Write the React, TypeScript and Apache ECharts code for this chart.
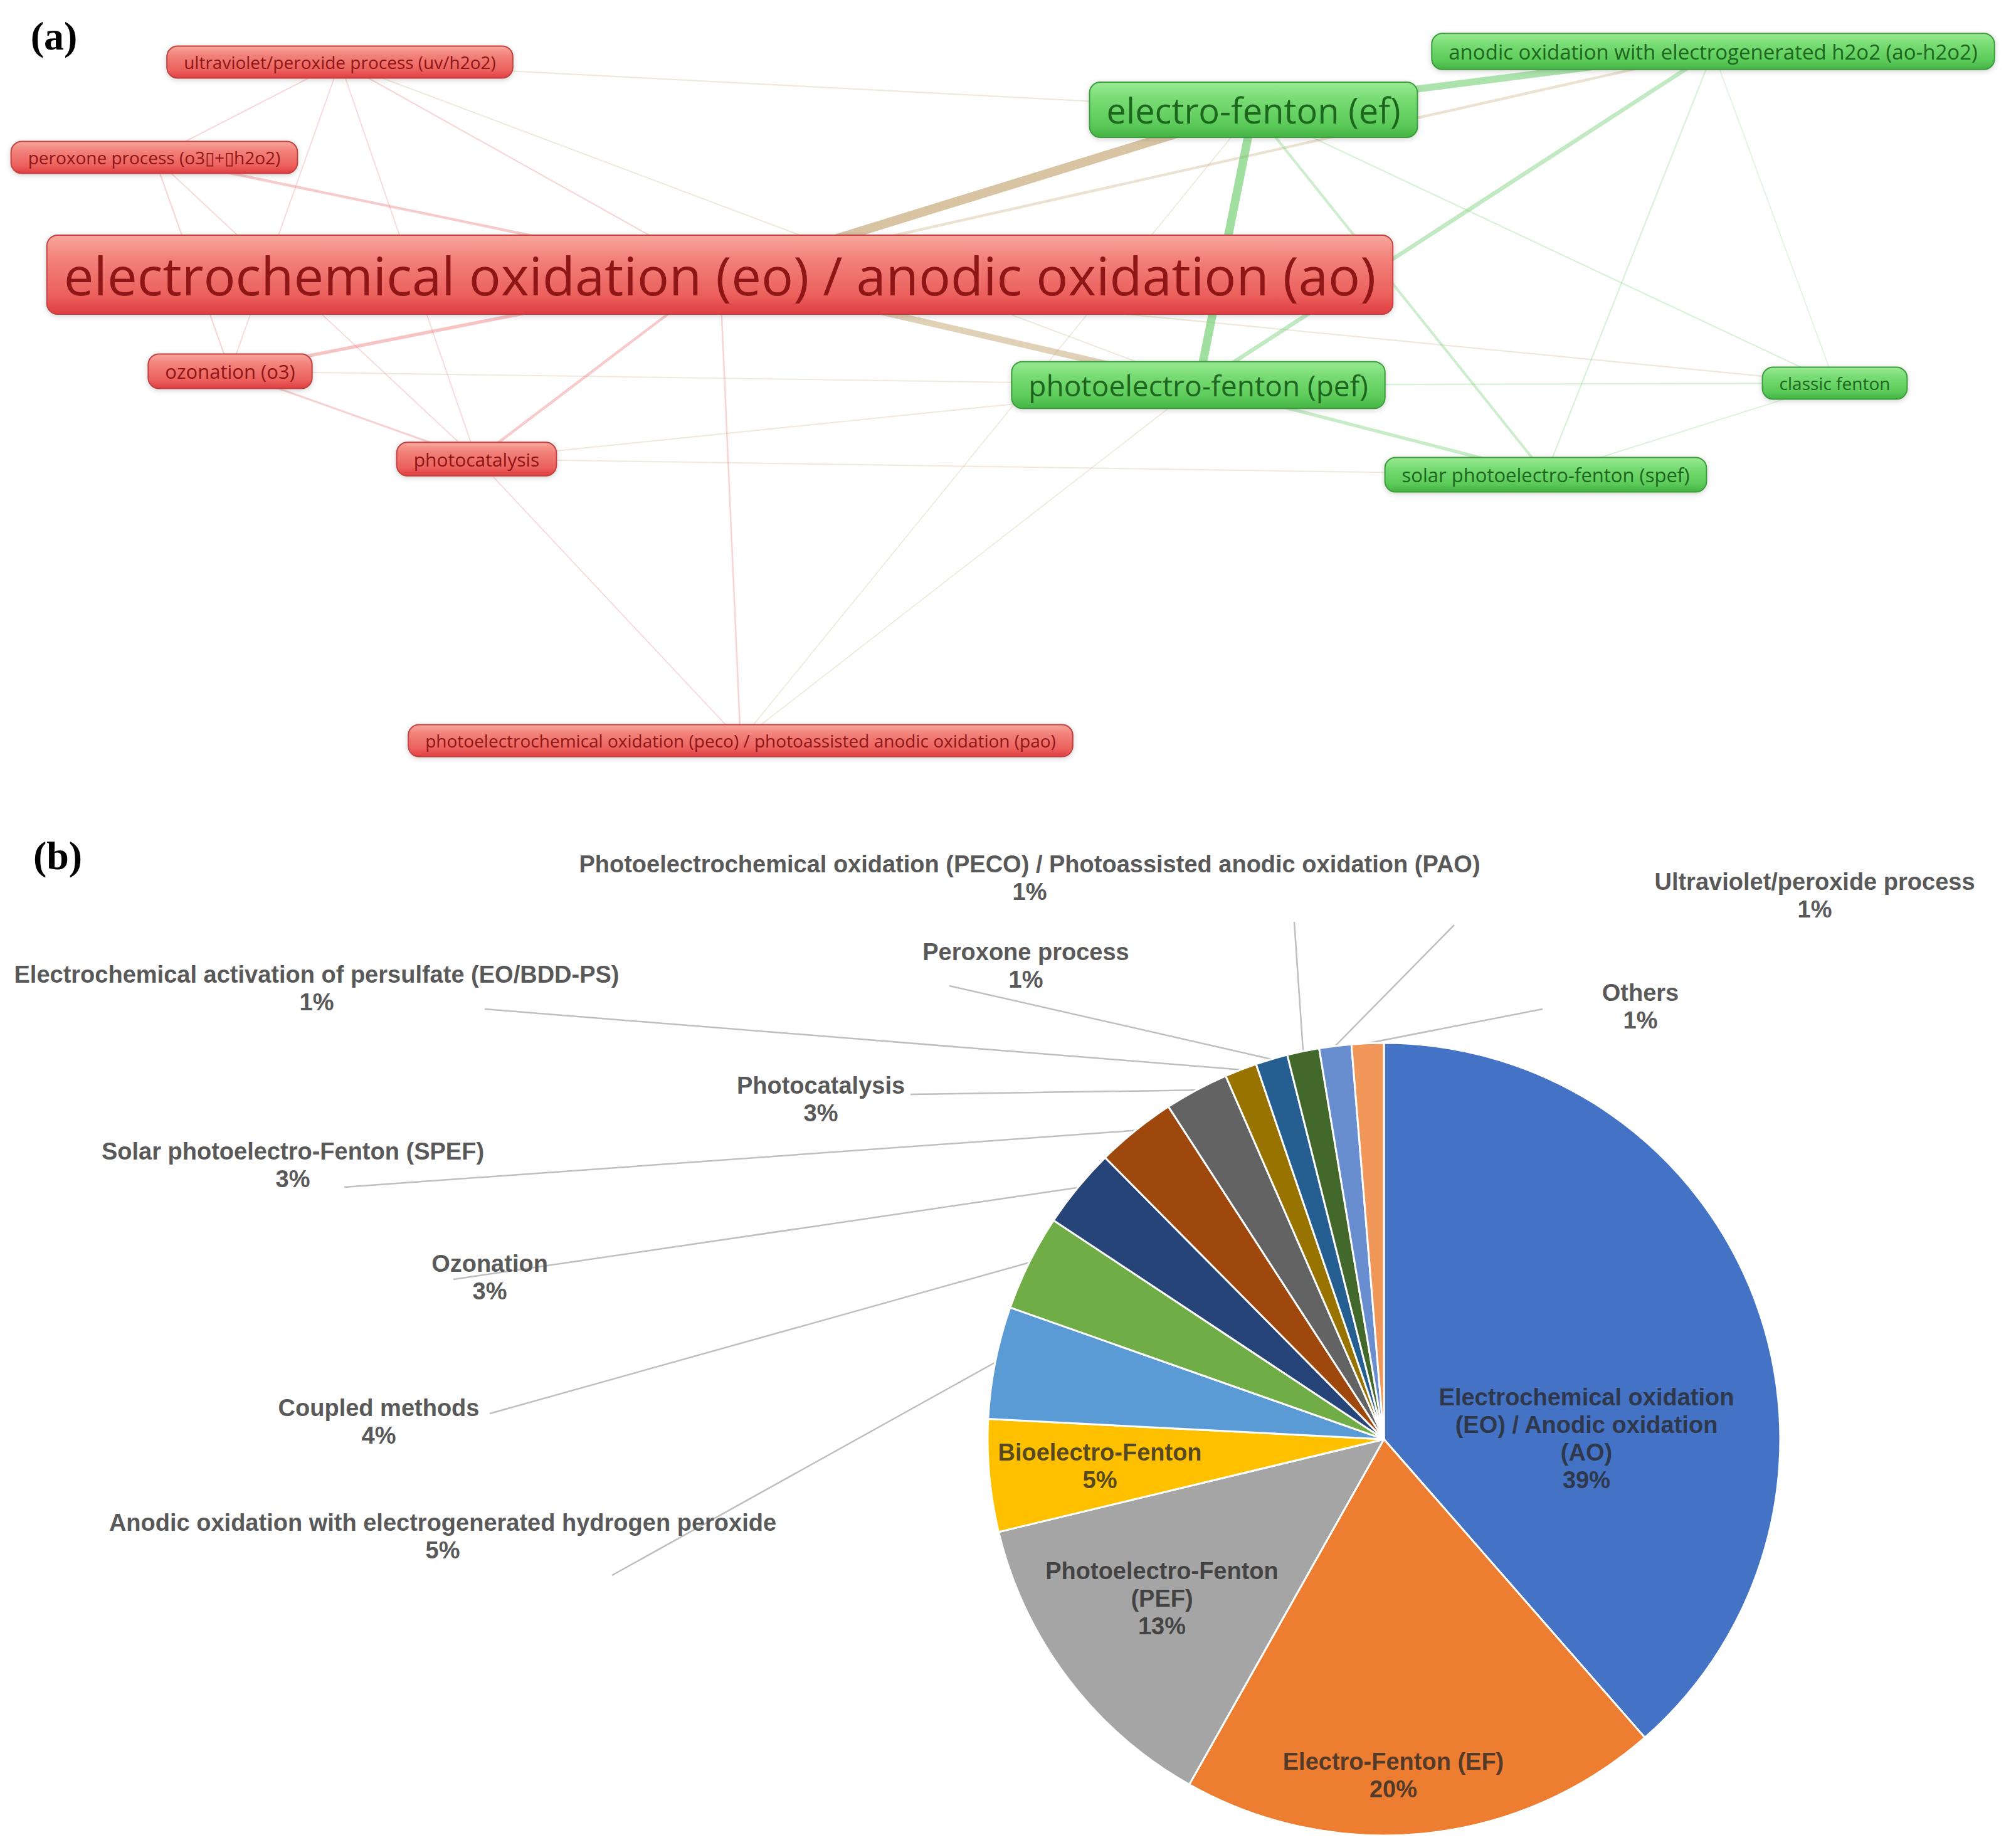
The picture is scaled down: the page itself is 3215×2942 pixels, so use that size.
import React, { useEffect, useRef } from "react";
import * as echarts from "echarts";

const CHART_W = 3215;
const CHART_H = 2942;

// ---------------- (a) keyword co-occurrence network ----------------
const nodeNames = [
  "electrochemical oxidation (eo) / anodic oxidation (ao)",
  "electro-fenton (ef)",
  "photoelectro-fenton (pef)",
  "anodic oxidation with electrogenerated h2o2 (ao-h2o2)",
  "solar photoelectro-fenton (spef)",
  "classic fenton",
  "ultraviolet/peroxide process (uv/h2o2)",
  "peroxone process (o3\u25AF+\u25AFh2o2)",
  "ozonation (o3)",
  "photocatalysis",
  "photoelectrochemical oxidation (peco) / photoassisted anodic oxidation (pao)",
];
const nodeCluster = [1, 2, 2, 2, 2, 2, 1, 1, 1, 1, 1];
const nodeOccurrences = [59, 30, 20, 7, 5, 2, 2, 2, 5, 4, 2];
const nodeMapX = [1148, 1999, 1911, 2732, 2465, 2926, 542, 246, 367, 760, 1181];
const nodeMapY = [438, 175, 614, 82, 757, 611, 99, 251, 592, 732, 1181];

const linkSource = [0, 0, 1, 1, 3, 0, 1, 2, 1, 3, 3, 2, 0, 0, 0, 0, 0, 0, 8, 7, 7, 6, 6, 6, 6, 6, 8, 9, 9, 10, 10, 9, 5];
const linkTarget = [1, 2, 2, 3, 2, 3, 4, 4, 5, 4, 5, 5, 5, 8, 9, 7, 10, 6, 9, 8, 9, 7, 8, 9, 1, 2, 2, 2, 4, 1, 2, 10, 4];
const linkStrength = [12, 8, 11, 9, 5, 3, 3, 4, 1.2, 1.2, 0.6, 1.2, 1.2, 4, 3, 3, 1.5, 1.2, 2, 1.2, 0.8, 1, 0.8, 0.8, 1.2, 1, 1, 1, 1, 0.8, 0.8, 0.8, 0.8];

// ---------------- (b) pie chart ----------------
const pieCategories = [
  "Electrochemical oxidation (EO) / Anodic oxidation (AO)",
  "Electro-Fenton (EF)",
  "Photoelectro-Fenton (PEF)",
  "Bioelectro-Fenton",
  "Anodic oxidation with electrogenerated hydrogen peroxide",
  "Coupled methods",
  "Ozonation",
  "Solar photoelectro-Fenton (SPEF)",
  "Photocatalysis",
  "Electrochemical activation of persulfate (EO/BDD-PS)",
  "Peroxone process",
  "Photoelectrochemical oxidation (PECO) / Photoassisted anodic oxidation (PAO)",
  "Ultraviolet/peroxide process",
  "Others",
];
const pieValues = [59, 30, 20, 7, 7, 6, 5, 5, 4, 2, 2, 2, 2, 2];
const pieLabelText = [
  "Electrochemical oxidation\n(EO) / Anodic oxidation\n(AO)",
  "Electro-Fenton (EF)",
  "Photoelectro-Fenton\n(PEF)",
  "Bioelectro-Fenton",
  "Anodic oxidation with electrogenerated hydrogen peroxide",
  "Coupled methods",
  "Ozonation",
  "Solar photoelectro-Fenton (SPEF)",
  "Photocatalysis",
  "Electrochemical activation of persulfate (EO/BDD-PS)",
  "Peroxone process",
  "Photoelectrochemical oxidation (PECO) / Photoassisted anodic oxidation (PAO)",
  "Ultraviolet/peroxide process",
  "Others",
];

// ---------------- layout / styles ----------------
const pieColors = [
  "#4472C4", "#ED7D31", "#A5A5A5", "#FFC000", "#5B9BD5", "#70AD47", "#264478",
  "#9E480E", "#636363", "#997300", "#255E91", "#43682B", "#698ED0", "#F1975A",
];
const insideLabels = [0, 1, 2, 3];
const PIE_CENTER = [2207, 2295];
const PIE_RADIUS = 632;
const labelAt: Record<number, [number, number]> = {
  0: [2530, 2294], 1: [2222, 2831], 2: [1853, 2549], 3: [1754, 2338],
  4: [706, 2450], 5: [604, 2267], 6: [781, 2037], 7: [467, 1858],
  8: [1309, 1753], 9: [505, 1576], 10: [1636, 1540], 11: [1642, 1400],
  12: [2894, 1428], 13: [2616, 1605],
};
const leaderEnd: Record<number, [number, number]> = {
  4: [976, 2512], 5: [781, 2254], 6: [723, 2040], 7: [549, 1893],
  8: [1452, 1745], 9: [773, 1609], 10: [1514, 1572], 11: [2064, 1470],
  12: [2319, 1475], 13: [2460, 1609],
};

let measureCtx: CanvasRenderingContext2D | null = null;
function textWidth(text: string, font: string): number {
  if (!measureCtx) {
    const c = document.createElement("canvas");
    measureCtx = c.getContext("2d");
  }
  if (!measureCtx) return text.length * 10;
  measureCtx.font = font;
  return measureCtx.measureText(text).width;
}

function edgeColor(a: number, b: number, s: number): string {
  const ca = nodeCluster[a];
  const cb = nodeCluster[b];
  const alpha = Math.min(0.66, 0.22 + 0.037 * s);
  const rgb = ca === cb ? (ca === 1 ? "232,96,96" : "104,204,104") : "196,166,116";
  return `rgba(${rgb},${alpha})`;
}

function arcPoint(i: number): number[] {
  const total = pieValues.reduce((a, b) => a + b, 0);
  let before = 0;
  for (let k = 0; k < i; k++) before += pieValues[k];
  const mid = ((before + pieValues[i] / 2) / total) * Math.PI * 2;
  return [PIE_CENTER[0] + PIE_RADIUS * Math.sin(mid), PIE_CENTER[1] - PIE_RADIUS * Math.cos(mid)];
}

export default function App() {
  const ref = useRef<HTMLDivElement>(null);

  useEffect(() => {
    if (!ref.current) return;
    const chart = echarts.init(ref.current, undefined, { renderer: "svg" });

    const order = linkStrength.map((_, i) => i).sort((a, b) => linkStrength[a] - linkStrength[b]);
    const linesData = order.map((k) => {
      const a = linkSource[k];
      const b = linkTarget[k];
      return {
        coords: [
          [nodeMapX[a], nodeMapY[a]],
          [nodeMapX[b], nodeMapY[b]],
        ],
        lineStyle: {
          color: edgeColor(a, b, linkStrength[k]),
          width: 0.8 + 1.15 * linkStrength[k],
        },
      };
    });

    const option: any = {
      animation: false,
      backgroundColor: "#ffffff",
      grid: { left: 0, top: 0, width: CHART_W, height: 1300, show: false },
      xAxis: { type: "value", min: 0, max: CHART_W, show: false },
      yAxis: { type: "value", min: 0, max: 1300, inverse: true, show: false },
      graphic: [
        {
          type: "text",
          x: 86,
          y: 57,
          style: {
            text: "(a)",
            fontSize: 64,
            fontWeight: "bold",
            fontFamily: "Liberation Serif",
            fill: "#000",
            align: "center",
            verticalAlign: "middle",
            textAlign: "center",
            textVerticalAlign: "middle",
          },
        },
        {
          type: "text",
          x: 92,
          y: 1364,
          style: {
            text: "(b)",
            fontSize: 64,
            fontWeight: "bold",
            fontFamily: "Liberation Serif",
            fill: "#000",
            align: "center",
            verticalAlign: "middle",
            textAlign: "center",
            textVerticalAlign: "middle",
          },
        },
      ],
      series: [
        {
          type: "lines",
          coordinateSystem: "cartesian2d",
          xAxisIndex: 0,
          yAxisIndex: 0,
          z: 1,
          silent: true,
          polyline: false,
          lineStyle: { opacity: 1, curveness: 0 },
          data: linesData,
        },
        {
          type: "custom",
          coordinateSystem: "cartesian2d",
          xAxisIndex: 0,
          yAxisIndex: 0,
          z: 3,
          clip: false,
          silent: true,
          data: nodeMapX.map((x, i) => [x, nodeMapY[i]]),
          renderItem: (params: any, api: any) => {
            const i = params.dataIndex;
            const pt = api.coord([api.value(0), api.value(1)]);
            const fs = 26 + nodeOccurrences[i];
            const font = `${fs}px "Open Sans"`;
            const tw = textWidth(nodeNames[i], font);
            const bw = tw + 54;
            const bh = fs * 1.32 + 14;
            const red = nodeCluster[i] === 1;
            const fill = new echarts.graphic.LinearGradient(0, 0, 0, 1,
              red
                ? [
                    { offset: 0, color: "#F9A79C" },
                    { offset: 0.3, color: "#F2817A" },
                    { offset: 0.75, color: "#EC615D" },
                    { offset: 1, color: "#DF3E42" },
                  ]
                : [
                    { offset: 0, color: "#9AEA94" },
                    { offset: 0.3, color: "#78DC74" },
                    { offset: 0.75, color: "#5CCB5A" },
                    { offset: 1, color: "#45B445" },
                  ]);
            return {
              type: "group",
              children: [
                {
                  type: "rect",
                  shape: { x: pt[0] - bw / 2, y: pt[1] - bh / 2, width: bw, height: bh, r: 17 },
                  style: {
                    fill,
                    stroke: red ? "#C24242" : "#3C9C3C",
                    lineWidth: 2,
                    shadowBlur: 8,
                    shadowColor: "rgba(0,0,0,0.18)",
                    shadowOffsetY: 2,
                  },
                },
                {
                  type: "text",
                  x: pt[0],
                  y: pt[1],
                  style: {
                    text: nodeNames[i],
                    fontSize: fs,
                    fontFamily: "Open Sans",
                    fill: red ? "#8F1616" : "#1D661D",
                    align: "center",
                    verticalAlign: "middle",
                  },
                },
              ],
            };
          },
        },
        {
          type: "pie",
          center: PIE_CENTER,
          radius: PIE_RADIUS,
          startAngle: 90,
          clockwise: true,
          avoidLabelOverlap: false,
          silent: true,
          z: 2,
          itemStyle: { borderColor: "#ffffff", borderWidth: 3 },
          label: {
            show: true,
            formatter: (p: any) => `${pieLabelText[p.dataIndex]}\n${Math.round(p.percent)}%`,
            fontFamily: "Liberation Sans",
            fontWeight: "bold",
            fontSize: 38,
            lineHeight: 44,
            align: "center",
          },
          labelLine: {
            show: true,
            length: 20,
            length2: 20,
            lineStyle: { color: "#BFBFBF", width: 2.5 },
          },
          labelLayout: (params: any) => {
            const i = params.dataIndex;
            const pos = labelAt[i];
            const res: any = { x: pos[0], y: pos[1], align: "center", verticalAlign: "middle" };
            const end = leaderEnd[i];
            if (end) {
              const p0 =
                params.labelLinePoints && params.labelLinePoints[0]
                  ? params.labelLinePoints[0]
                  : arcPoint(i);
              res.labelLinePoints = [p0, end, end];
            }
            return res;
          },
          data: pieCategories.map((name, i) => {
            const inside = insideLabels.indexOf(i) >= 0;
            return {
              name,
              value: pieValues[i],
              itemStyle: { color: pieColors[i] },
              label: inside
                ? { position: "inside", color: "rgba(40,40,40,0.78)" }
                : { position: "outside", color: "#595959" },
              labelLine: { show: !inside },
            };
          }),
        },
      ],
    };

    chart.setOption(option);
    return () => chart.dispose();
  }, []);

  return (
    <div
      ref={ref}
      style={{ position: "absolute", left: 0, top: 0, width: CHART_W, height: CHART_H, background: "#fff" }}
    />
  );
}
